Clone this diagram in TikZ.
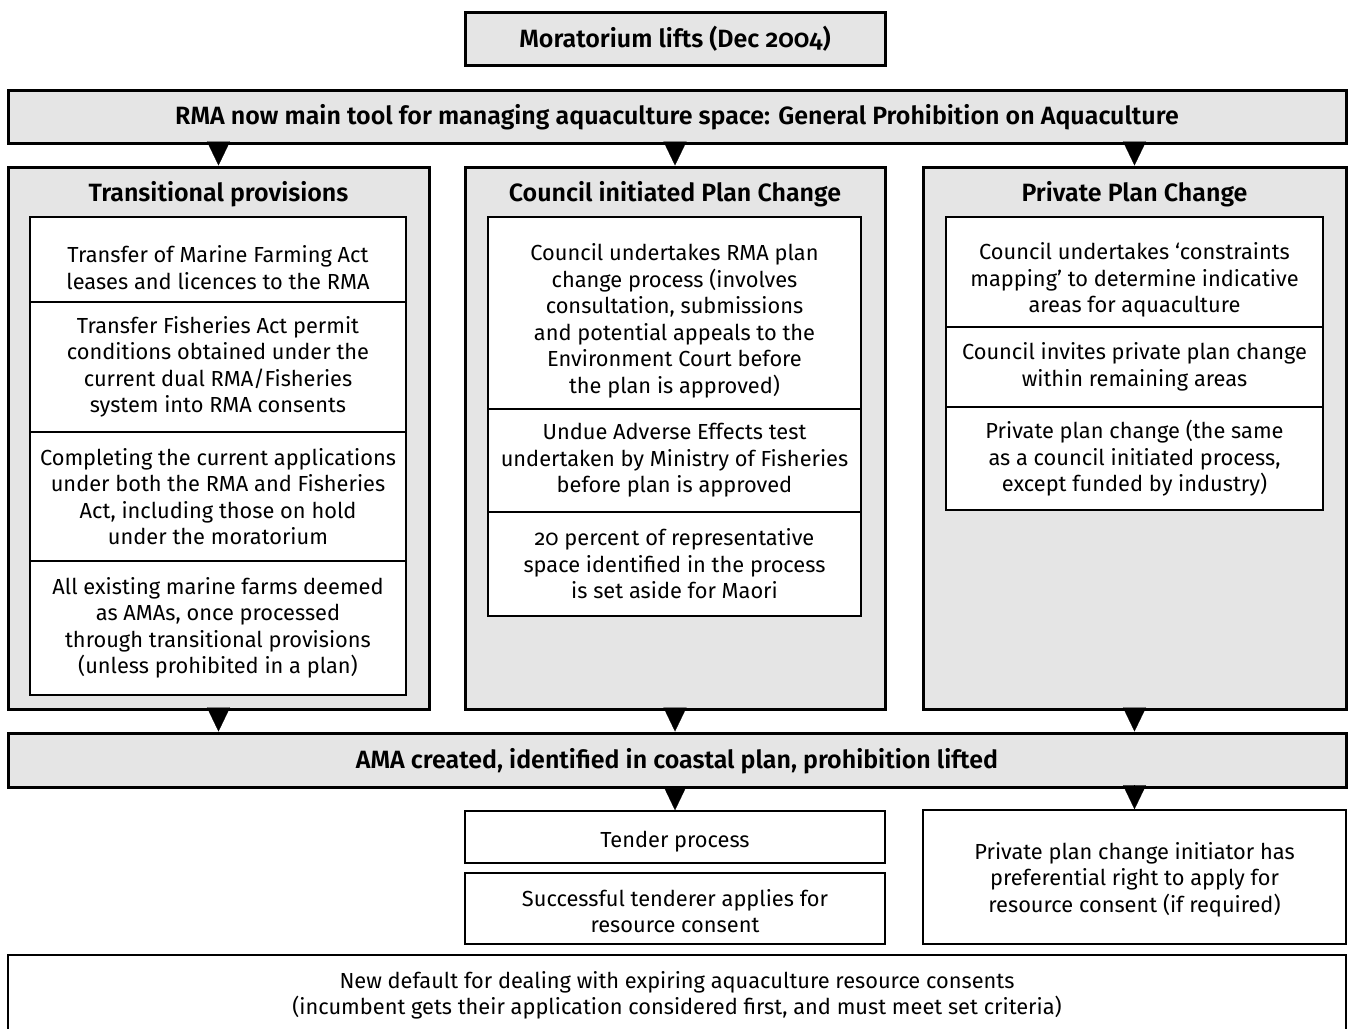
\documentclass[tikz,border=0pt]{standalone}
\usepackage{fontspec}
\setmainfont{Fira Sans}[Numbers=OldStyle, BoldFont={Fira Sans SemiBold}]
\usetikzlibrary{positioning, arrows.meta, calc}

\newcommand{\topgap}{\rule{0pt}{16.5pt}}
\newcommand{\lift}{\rule{0pt}{11pt}}

\begin{document}
\begin{tikzpicture}[x=0.5pt, y=-0.5pt,
    every node/.style={font=\fontsize{10.9}{13.25}\selectfont, align=center, inner sep=0pt},
    greybox/.style={draw, line width=1.5pt, fill=black!10, font=\fontsize{12.5}{15}\selectfont\bfseries},
    title/.style={font=\fontsize{12.5}{15}\selectfont\bfseries},
    whitebox/.style={draw, line width=0.75pt, fill=white},
    tri/.style={line width=0.1pt, -{Triangle[length=12pt, width=11.5pt]}}]
    \useasboundingbox (0,0) rectangle (1349,1028);

    % Top boxes
    \node[greybox, minimum width=210pt, minimum height=26.5pt] (mora) at (675,39) {Moratorium lifts (Dec 2004)};
    \node[greybox, minimum width=669pt, minimum height=26.5pt] (rma) at (677,116.5) {\lift RMA now main tool for managing aquaculture space: General Prohibition on Aquaculture};

    % Columns
    \node[greybox, minimum width=210.5pt, minimum height=271pt] (trans) at (218.5,438) {};
    \node[greybox, minimum width=210pt, minimum height=271pt] (council) at (675,438) {};
    \node[greybox, minimum width=211.5pt, minimum height=271pt] (private) at (1134.5,438) {};
    \node[title] (transtitle) at (218.5,193) {\lift Transitional provisions};
    \node[title] (counciltitle) at (675,193) {\lift Council initiated Plan Change};
    \node[title] (privatetitle) at (1134.5,193) {\lift Private Plan Change};

    % Transitional provisions
    \node[whitebox, minimum width=188pt, minimum height=42.5pt] (trans1) at (218,259.5) {\topgap Transfer of Marine Farming Act\\leases and licences to the RMA};
    \node[whitebox, minimum width=188pt, minimum height=65pt] (trans2) at (218,367) {Transfer Fisheries Act permit\\conditions obtained under the\\current dual RMA/Fisheries\\system into RMA consents};
    \node[whitebox, minimum width=188pt, minimum height=64.5pt] (trans3) at (218,496.5) {Completing the current applications\\under both the RMA and Fisheries\\Act, including those on hold\\under the moratorium};
    \node[whitebox, minimum width=188pt, minimum height=67pt] (trans4) at (218,628) {All existing marine farms deemed\\as AMAs, once processed\\through transitional provisions\\(unless prohibited in a plan)};

    % Council initiated Plan Change
    \node[whitebox, minimum width=186.5pt, minimum height=96pt] (council1) at (674.5,313) {\topgap Council undertakes RMA plan\\change process (involves\\consultation, submissions\\and potential appeals to the\\Environment Court before\\the plan is approved)};
    \node[whitebox, minimum width=186.5pt, minimum height=51.5pt] (council2) at (674.5,460.5) {Undue Adverse Effects test\\undertaken by Ministry of Fisheries\\before plan is approved};
    \node[whitebox, minimum width=186.5pt, minimum height=52pt] (council3) at (674.5,564) {20 percent of representative\\space identified in the process\\is set aside for Maori};

    % Private Plan Change
    \node[whitebox, minimum width=188.5pt, minimum height=55pt] (private1) at (1134.5,272) {\topgap Council undertakes ‘constraints\\mapping’ to determine indicative\\areas for aquaculture};
    \node[whitebox, minimum width=188.5pt, minimum height=40pt] (private2) at (1134.5,367) {Council invites private plan change\\within remaining areas};
    \node[whitebox, minimum width=188.5pt, minimum height=51.5pt] (private3) at (1134.5,458.5) {Private plan change (the same\\as a council initiated process,\\except funded by industry)};

    % AMA and what follows
    \node[greybox, minimum width=669pt, minimum height=27pt] (ama) at (677,760) {\lift AMA created, identified in coastal plan, prohibition lifted};
    \node[whitebox, minimum width=210pt, minimum height=26pt] (tender) at (675,837) {\rule{0pt}{13pt}Tender process};
    \node[whitebox, minimum width=210pt, minimum height=35.5pt] (success) at (675,908.5) {\lift Successful tenderer applies for\\resource consent};
    \node[whitebox, minimum width=211.5pt, minimum height=67pt] (initiator) at (1134.5,877) {\lift Private plan change initiator has\\preferential right to apply for\\resource consent (if required)};
    \node[whitebox, minimum width=669pt, minimum height=38pt] (default) at (677,993) {\lift New default for dealing with expiring aquaculture resource consents\\(incumbent gets their application considered first, and must meet set criteria)};

    % Triangles
    \foreach \col in {trans, council, private} {
        \draw[tri] (rma.south -| \col.north) -- (\col.north);
        \draw[tri] (\col.south) -- (\col.south |- ama.north);
    }
    \draw[tri] (ama.south -| tender.north) -- (tender.north);
    \draw[tri] (ama.south -| initiator.north) -- (initiator.north);
\end{tikzpicture}
\end{document}
